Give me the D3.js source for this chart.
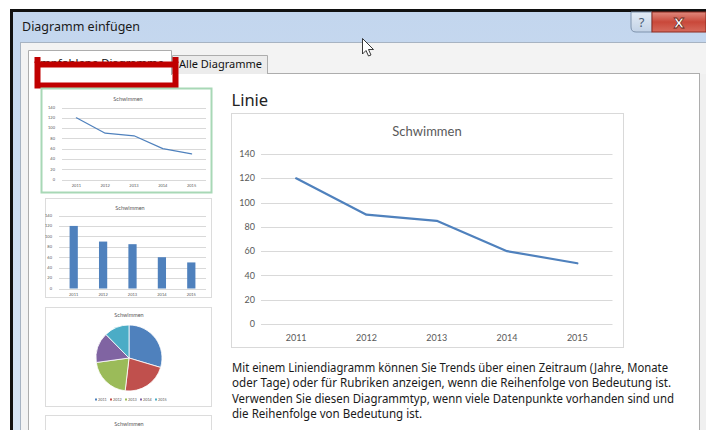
<!DOCTYPE html>
<html><head><meta charset="utf-8">
<script src="https://cdn.jsdelivr.net/npm/d3@7"></script>
<style>html,body{margin:0;padding:0;background:#fff;overflow:hidden}svg{display:block}</style>
</head><body>
<script>
const years = ["2011", "2012", "2013", "2014", "2015"];
const values = [120, 90, 85, 60, 50];
const yTicks = [0, 20, 40, 60, 80, 100, 120, 140];
const pieColors = ["#4f81bd", "#c0504d", "#9bbb59", "#8064a2", "#4bacc6"];
const chartTitle = "Schwimmen";
const dialogTitle = "Diagramm einfügen";
const tabLabels = ["Empfohlene Diagramme", "Alle Diagramme"];
const typeName = "Linie";
const descLines = [
  "Mit einem Liniendiagramm können Sie Trends über einen Zeitraum (Jahre, Monate",
  "oder Tage) oder für Rubriken anzeigen, wenn die Reihenfolge von Bedeutung ist.",
  "Verwenden Sie diesen Diagrammtyp, wenn viele Datenpunkte vorhanden sind und",
  "die Reihenfolge von Bedeutung ist."
];

const W = 706, H = 430;
const svg = d3.select("body").append("svg").attr("width", W).attr("height", H);
const defs = svg.append("defs");
const chartFont = "Lato, 'Liberation Sans', sans-serif";
const uiFont = "'Noto Sans', 'Open Sans', sans-serif";

// gradients
const tg = defs.append("linearGradient").attr("id", "titlebar").attr("x1", 0).attr("y1", 0).attr("x2", 0).attr("y2", 1);
tg.append("stop").attr("offset", "0").attr("stop-color", "#c3d6ee");
tg.append("stop").attr("offset", "1").attr("stop-color", "#d6e4f4");
const cg = defs.append("linearGradient").attr("id", "closeb").attr("x1", 0).attr("y1", 0).attr("x2", 0).attr("y2", 1);
cg.append("stop").attr("offset", "0").attr("stop-color", "#e08a7e");
cg.append("stop").attr("offset", "0.5").attr("stop-color", "#c9483a");
cg.append("stop").attr("offset", "1").attr("stop-color", "#d66a5c");
const hg = defs.append("linearGradient").attr("id", "helpb").attr("x1", 0).attr("y1", 0).attr("x2", 0).attr("y2", 1);
hg.append("stop").attr("offset", "0").attr("stop-color", "#e4ecf5");
hg.append("stop").attr("offset", "1").attr("stop-color", "#c2d2e6");
defs.append("clipPath").attr("id", "tabclip").append("rect").attr("x", 40).attr("y", 50).attr("width", 132).attr("height", 12);

// window frame
svg.append("rect").attr("x", 10).attr("y", 9).attr("width", W - 10).attr("height", H - 9).attr("fill", "#111");
svg.append("rect").attr("x", 13).attr("y", 12).attr("width", W - 13).attr("height", H - 12).attr("fill", "url(#titlebar)");
svg.append("text").attr("x", 22).attr("y", 31).attr("font-family", uiFont).attr("font-size", 12.5).attr("fill", "#1a1a1a").text(dialogTitle);

// help & close buttons
svg.append("path").attr("d", "M631,12 H652 V32 H636 Q631,32 631,27 Z").attr("fill", "url(#helpb)").attr("stroke", "#7f93ad");
svg.append("text").attr("x", 641.5).attr("y", 27).attr("text-anchor", "middle").attr("font-family", uiFont).attr("font-size", 13).attr("fill", "#4a5c74").text("?");
svg.append("rect").attr("x", 652).attr("y", 12).attr("width", 54).attr("height", 20).attr("fill", "url(#closeb)").attr("stroke", "#8c2a20");
svg.append("text").attr("x", 679).attr("y", 27.5).attr("text-anchor", "middle").attr("font-family", "'DejaVu Sans', sans-serif").attr("font-weight", "bold").attr("font-size", 14).attr("fill", "#fff").attr("stroke", "#6b2a22").attr("stroke-width", 0.8).text("X");

// inner dialog area
svg.append("rect").attr("x", 20.5).attr("y", 42.5).attr("width", W - 20).attr("height", H).attr("fill", "#f3f3f3").attr("stroke", "#a7b3c2");
// content panel
svg.append("rect").attr("x", 28.5).attr("y", 73.5).attr("width", 671).attr("height", H).attr("fill", "#fff").attr("stroke", "#adadad");
svg.append("rect").attr("x", 700).attr("y", 74).attr("width", 6).attr("height", H).attr("fill", "#f0f0f0");
// tabs
svg.append("path").attr("d", "M172.5,74 V55.5 H267.5 V74").attr("fill", "#ececec").attr("stroke", "#adadad");
svg.append("path").attr("d", "M28.5,75 V50.5 H171.5 V75").attr("fill", "#fff").attr("stroke", "#adadad");
svg.append("rect").attr("x", 29).attr("y", 73).attr("width", 142).attr("height", 2).attr("fill", "#fff");
svg.append("text").attr("x", 179).attr("y", 67.5).attr("font-family", uiFont).attr("font-size", 11.5)
  .attr("textLength", 83).attr("lengthAdjust", "spacingAndGlyphs").attr("fill", "#111").text(tabLabels[1]);

// red highlight box and clipped tab label above it
svg.append("text").attr("x", 34).attr("y", 67).attr("clip-path", "url(#tabclip)").attr("font-family", uiFont).attr("font-size", 11.5)
  .attr("textLength", 130).attr("lengthAdjust", "spacingAndGlyphs").attr("fill", "#111").text(tabLabels[0]);
svg.append("rect").attr("x", 37.5).attr("y", 64.5).attr("width", 138).attr("height", 21).attr("fill", "none").attr("stroke", "#c00000").attr("stroke-width", 6);
svg.append("rect").attr("x", 34.5).attr("y", 57).attr("width", 6).attr("height", 6).attr("fill", "#c00000");
svg.append("rect").attr("x", 172.5).attr("y", 57).attr("width", 6).attr("height", 6).attr("fill", "#c00000");

// ---- chart helpers ----
function axisGrid(g, x0, x1, y, fs, labelX) {
  g.selectAll(".grid").data(yTicks).join("line")
    .attr("x1", x0).attr("x2", x1).attr("y1", d => Math.round(y(d)) + 0.5).attr("y2", d => Math.round(y(d)) + 0.5)
    .attr("stroke", "#d9d9d9").attr("stroke-width", 1);
  g.selectAll(".yl").data(yTicks).join("text")
    .attr("x", labelX).attr("y", d => y(d) + fs * 0.35).attr("text-anchor", "end")
    .attr("font-family", chartFont).attr("font-size", fs).attr("fill", "#595959").text(d => d);
}
function xLabels(g, x, yPos, fs) {
  g.selectAll(".xl").data(years).join("text")
    .attr("x", d => x(d) + x.bandwidth() / 2).attr("y", yPos).attr("text-anchor", "middle")
    .attr("font-family", chartFont).attr("font-size", fs).attr("fill", "#595959").text(d => d);
}
function lineChart(box, fs, titleFs, lw) {
  const g = svg.append("g");
  const x = d3.scaleBand().domain(years).range([box.gx0, box.gx1]);
  const y = d3.scaleLinear().domain([0, 140]).range([box.y0, box.y140]);
  g.append("text").attr("x", box.tx).attr("y", box.ty).attr("text-anchor", "middle")
    .attr("font-family", chartFont).attr("font-size", titleFs).attr("fill", "#595959").text(chartTitle);
  axisGrid(g, box.gx0, box.gx1, y, fs, box.lx);
  xLabels(g, x, box.xly, fs);
  const line = d3.line().x((d, i) => x(years[i]) + x.bandwidth() / 2).y(d => y(d));
  g.append("path").datum(values).attr("d", line).attr("fill", "none")
    .attr("stroke", "#4f81bd").attr("stroke-width", lw).attr("stroke-linejoin", "round").attr("stroke-linecap", "round");
}

// ---- thumbnails ----
// 1: line (selected)
svg.append("rect").attr("x", 41.5).attr("y", 88.5).attr("width", 170).attr("height", 104).attr("fill", "#fff").attr("stroke", "#a8d8b6").attr("stroke-width", 2);
lineChart({gx0: 62, gx1: 206, y0: 179.5, y140: 107.5, tx: 128, ty: 100.5, lx: 55, xly: 186.8}, 4, 5.5, 1.2);

// 2: bar
svg.append("rect").attr("x", 45.5).attr("y", 198.5).attr("width", 166).attr("height", 99).attr("fill", "#fff").attr("stroke", "#dcdcdc");
(function () {
  const g = svg.append("g");
  const x = d3.scaleBand().domain(years).range([59, 206]).paddingInner(0.72).paddingOuter(0.36);
  const y = d3.scaleLinear().domain([0, 140]).range([288.5, 215.5]);
  g.append("text").attr("x", 130).attr("y", 209.5).attr("text-anchor", "middle")
    .attr("font-family", chartFont).attr("font-size", 5.5).attr("fill", "#595959").text(chartTitle);
  axisGrid(g, 59, 206, y, 4, 52);
  xLabels(g, x, 295.5, 4);
  g.selectAll(".bar").data(values).join("rect")
    .attr("x", (d, i) => x(years[i])).attr("width", x.bandwidth())
    .attr("y", d => y(d)).attr("height", d => y(0) - y(d)).attr("fill", "#4f81bd");
})();

// 3: pie
svg.append("rect").attr("x", 45.5).attr("y", 307.5).attr("width", 166).attr("height", 99).attr("fill", "#fff").attr("stroke", "#dcdcdc");
(function () {
  const g = svg.append("g");
  g.append("text").attr("x", 129).attr("y", 317).attr("text-anchor", "middle")
    .attr("font-family", chartFont).attr("font-size", 5.5).attr("fill", "#595959").text(chartTitle);
  const pie = d3.pie().sort(null)(values);
  const arc = d3.arc().innerRadius(0).outerRadius(33);
  g.append("g").attr("transform", "translate(129,358)").selectAll("path").data(pie).join("path")
    .attr("d", arc).attr("fill", (d, i) => pieColors[i]).attr("stroke", "#fff").attr("stroke-width", 0.8);
  const lx = d3.scalePoint().domain(years).range([100, 160]);
  const lg = g.selectAll(".leg").data(years).join("g").attr("transform", d => `translate(${lx(d)},400)`);
  lg.append("rect").attr("x", -5).attr("y", -1.5).attr("width", 2).attr("height", 2).attr("fill", (d, i) => pieColors[i]);
  lg.append("text").attr("x", -2).attr("y", 1.3).attr("font-family", chartFont).attr("font-size", 3.8).attr("fill", "#595959").text(d => d);
})();

// 4: next thumbnail (cut off)
svg.append("rect").attr("x", 45.5).attr("y", 415.5).attr("width", 166).attr("height", 40).attr("fill", "#fff").attr("stroke", "#dcdcdc");
svg.append("text").attr("x", 129).attr("y", 425.5).attr("text-anchor", "middle")
  .attr("font-family", chartFont).attr("font-size", 5.5).attr("fill", "#595959").text(chartTitle);

// ---- main preview ----
svg.append("text").attr("x", 231.5).attr("y", 106).attr("font-family", uiFont).attr("font-size", 16.5).attr("fill", "#222").text(typeName);
svg.append("rect").attr("x", 231.5).attr("y", 113.5).attr("width", 392).attr("height", 234).attr("fill", "#fff").attr("stroke", "#d9d9d9");
lineChart({gx0: 261, gx1: 612.5, y0: 324, y140: 154, tx: 427, ty: 136, lx: 255, xly: 341}, 9, 13, 2.2);

// description
svg.selectAll(".desc").data(descLines).join("text")
  .attr("x", 232).attr("y", (d, i) => 372 + i * 15.4)
  .attr("font-family", uiFont).attr("font-size", 12).attr("fill", "#1a1a1a")
  .attr("textLength", (d, i) => [436, 439, 442, 190][i]).attr("lengthAdjust", "spacingAndGlyphs")
  .text(d => d);

// mouse cursor
svg.append("path").attr("d", "M362.5,38.5 V54 L366,50.5 L368.5,56 L371,55 L368.5,49.5 L373.5,49.5 Z")
  .attr("fill", "#fff").attr("stroke", "#222").attr("stroke-width", 0.9).attr("stroke-linejoin", "round");
</script>
</body></html>
